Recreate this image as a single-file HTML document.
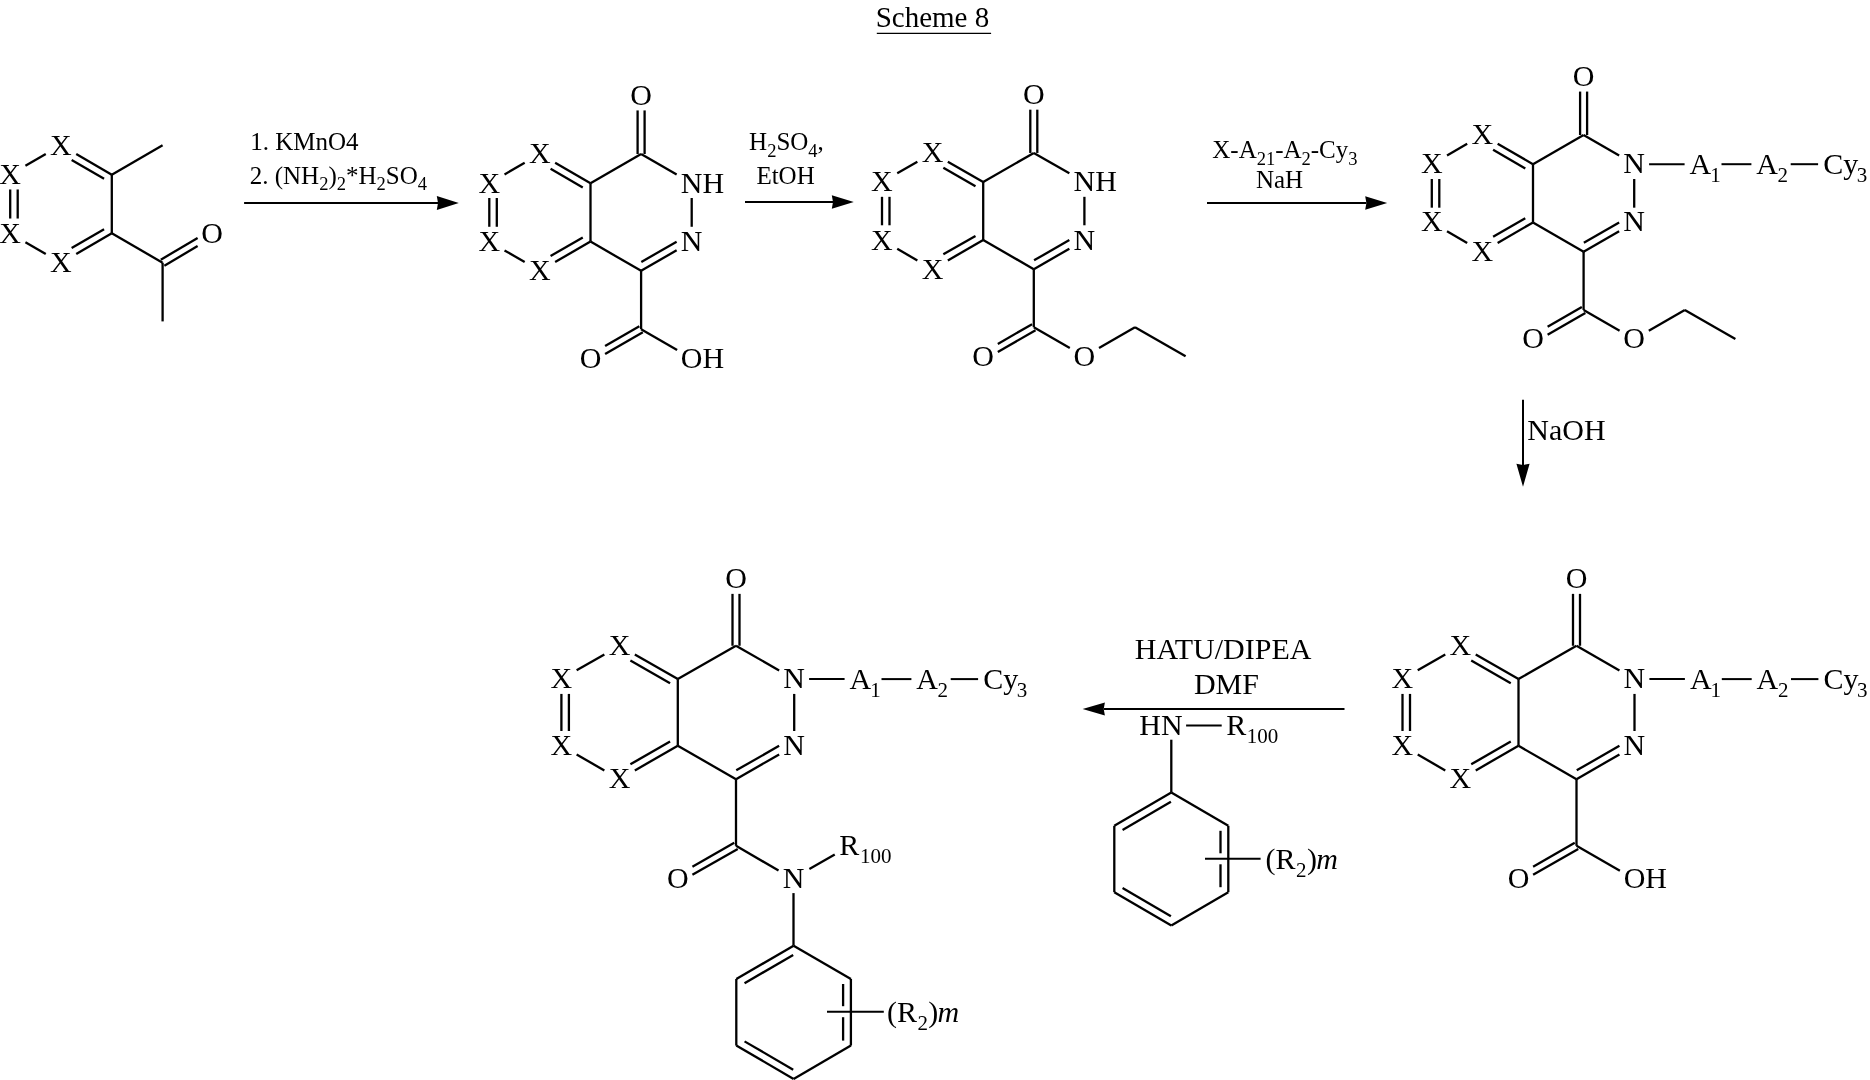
<!DOCTYPE html>
<html><head><meta charset="utf-8"><style>
html,body{margin:0;padding:0;background:#fff;}
svg{display:block;will-change:transform;}
</style></head><body>
<svg width="1870" height="1080" viewBox="0 0 1870 1080">
<rect width="1870" height="1080" fill="#fff"/>
<g stroke="#000" fill="#000" font-family="'Liberation Serif'">
<g stroke="none">
<text x="875.66" y="26.90" font-size="29">Scheme 8</text>
<text x="50.11" y="154.77" font-size="30">X</text>
<text x="50.11" y="272.17" font-size="30">X</text>
<text x="-0.69" y="242.82" font-size="30">X</text>
<text x="-0.69" y="184.12" font-size="30">X</text>
<text x="201.37" y="242.82" font-size="30">O</text>
<text x="250.20" y="149.90" font-size="25">1. KMnO4</text>
<text x="249.70" y="183.80" font-size="25">2. (NH</text>
<text x="319.13" y="190.30" font-size="18.5">2</text>
<text x="328.38" y="183.80" font-size="25">)</text>
<text x="336.71" y="190.30" font-size="18.5">2</text>
<text x="345.96" y="183.80" font-size="25">*H</text>
<text x="376.51" y="190.30" font-size="18.5">2</text>
<text x="385.76" y="183.80" font-size="25">SO</text>
<text x="417.72" y="190.30" font-size="18.5">4</text>
<text x="630.27" y="105.07" font-size="30">O</text>
<text x="680.78" y="192.67" font-size="30">NH</text>
<text x="680.78" y="251.07" font-size="30">N</text>
<text x="529.01" y="163.47" font-size="30">X</text>
<text x="478.41" y="192.67" font-size="30">X</text>
<text x="478.41" y="251.07" font-size="30">X</text>
<text x="529.01" y="280.27" font-size="30">X</text>
<text x="579.67" y="367.87" font-size="30">O</text>
<text x="680.87" y="367.87" font-size="30">OH</text>
<text x="749.08" y="150.00" font-size="25">H</text>
<text x="767.13" y="156.50" font-size="18.5">2</text>
<text x="776.38" y="150.00" font-size="25">SO</text>
<text x="808.34" y="156.50" font-size="18.5">4</text>
<text x="817.59" y="150.00" font-size="25">,</text>
<text x="756.38" y="184.00" font-size="25">EtOH</text>
<text x="1022.97" y="104.32" font-size="30">O</text>
<text x="1073.48" y="191.47" font-size="30">NH</text>
<text x="1073.48" y="249.57" font-size="30">N</text>
<text x="921.71" y="162.42" font-size="30">X</text>
<text x="871.11" y="191.47" font-size="30">X</text>
<text x="871.11" y="249.57" font-size="30">X</text>
<text x="921.71" y="278.62" font-size="30">X</text>
<text x="972.37" y="365.77" font-size="30">O</text>
<text x="1073.57" y="365.77" font-size="30">O</text>
<text x="1212.25" y="158.00" font-size="25">X-A</text>
<text x="1256.68" y="164.50" font-size="18.5">21</text>
<text x="1275.18" y="158.00" font-size="25">-A</text>
<text x="1301.56" y="164.50" font-size="18.5">2</text>
<text x="1310.81" y="158.00" font-size="25">-Cy</text>
<text x="1348.31" y="164.50" font-size="18.5">3</text>
<text x="1255.98" y="187.75" font-size="25">NaH</text>
<text x="1572.77" y="85.62" font-size="30">O</text>
<text x="1623.28" y="173.07" font-size="30">N</text>
<text x="1623.28" y="231.37" font-size="30">N</text>
<text x="1471.51" y="143.92" font-size="30">X</text>
<text x="1420.91" y="173.07" font-size="30">X</text>
<text x="1420.91" y="231.37" font-size="30">X</text>
<text x="1471.51" y="260.52" font-size="30">X</text>
<text x="1522.17" y="347.97" font-size="30">O</text>
<text x="1623.37" y="347.97" font-size="30">O</text>
<text x="1689.61" y="174.02" font-size="30">A</text>
<text x="1710.25" y="182.02" font-size="21">1</text>
<text x="1756.31" y="174.02" font-size="30">A</text>
<text x="1777.58" y="182.02" font-size="21">2</text>
<text x="1823.17" y="174.02" font-size="30">Cy</text>
<text x="1856.80" y="182.02" font-size="21">3</text>
<text x="1527.34" y="440.10" font-size="30">NaOH</text>
<text x="1565.67" y="587.92" font-size="30">O</text>
<text x="1623.58" y="687.97" font-size="30">N</text>
<text x="1623.58" y="754.67" font-size="30">N</text>
<text x="1449.61" y="654.62" font-size="30">X</text>
<text x="1391.61" y="687.97" font-size="30">X</text>
<text x="1391.61" y="754.67" font-size="30">X</text>
<text x="1449.61" y="788.02" font-size="30">X</text>
<text x="1507.67" y="888.07" font-size="30">O</text>
<text x="1623.67" y="888.07" font-size="30">OH</text>
<text x="1689.91" y="688.92" font-size="30">A</text>
<text x="1710.55" y="696.92" font-size="21">1</text>
<text x="1756.61" y="688.92" font-size="30">A</text>
<text x="1777.88" y="696.92" font-size="21">2</text>
<text x="1823.47" y="688.92" font-size="30">Cy</text>
<text x="1857.10" y="696.92" font-size="21">3</text>
<text x="1134.74" y="659.20" font-size="30">HATU/DIPEA</text>
<text x="1193.94" y="694.10" font-size="30">DMF</text>
<text x="1139.24" y="734.80" font-size="30">HN</text>
<text x="1226.14" y="734.80" font-size="30">R</text>
<text x="1246.85" y="742.60" font-size="21">100</text>
<text x="1265.58" y="868.90" font-size="30">(R</text>
<text x="1295.98" y="876.90" font-size="21">2</text>
<text x="1306.93" y="868.90" font-size="30">)</text>
<text x="1316.17" y="868.90" font-size="30" font-style="italic">m</text>
<text x="725.17" y="587.92" font-size="30">O</text>
<text x="783.28" y="687.97" font-size="30">N</text>
<text x="783.28" y="754.67" font-size="30">N</text>
<text x="608.71" y="654.62" font-size="30">X</text>
<text x="550.51" y="687.97" font-size="30">X</text>
<text x="550.51" y="754.67" font-size="30">X</text>
<text x="608.71" y="788.02" font-size="30">X</text>
<text x="849.61" y="688.92" font-size="30">A</text>
<text x="870.25" y="696.92" font-size="21">1</text>
<text x="916.31" y="688.92" font-size="30">A</text>
<text x="937.58" y="696.92" font-size="21">2</text>
<text x="983.17" y="688.92" font-size="30">Cy</text>
<text x="1016.80" y="696.92" font-size="21">3</text>
<text x="666.97" y="888.07" font-size="30">O</text>
<text x="782.68" y="888.07" font-size="30">N</text>
<text x="839.14" y="854.75" font-size="30">R</text>
<text x="860.05" y="862.75" font-size="21">100</text>
<text x="886.98" y="1021.50" font-size="30">(R</text>
<text x="917.38" y="1029.50" font-size="21">2</text>
<text x="928.33" y="1021.50" font-size="30">)</text>
<text x="937.57" y="1021.50" font-size="30" font-style="italic">m</text>
</g>
<line x1="876.80" y1="33.40" x2="991.10" y2="33.40" stroke-width="1.4"/>
<line x1="25.43" y1="165.85" x2="45.77" y2="154.10" stroke-width="2.3"/>
<line x1="76.23" y1="154.10" x2="111.80" y2="174.65" stroke-width="2.3"/>
<line x1="71.66" y1="160.12" x2="104.07" y2="178.84" stroke-width="2.3"/>
<line x1="111.80" y1="174.65" x2="111.80" y2="233.35" stroke-width="2.3"/>
<line x1="111.80" y1="233.35" x2="76.23" y2="253.90" stroke-width="2.3"/>
<line x1="104.07" y1="229.16" x2="71.66" y2="247.88" stroke-width="2.3"/>
<line x1="45.77" y1="253.90" x2="25.43" y2="242.15" stroke-width="2.3"/>
<line x1="10.20" y1="218.53" x2="10.20" y2="189.47" stroke-width="2.3"/>
<line x1="17.70" y1="218.53" x2="17.70" y2="189.47" stroke-width="2.3"/>
<line x1="111.80" y1="174.65" x2="162.60" y2="145.30" stroke-width="2.3"/>
<line x1="111.80" y1="233.35" x2="162.60" y2="262.70" stroke-width="2.3"/>
<line x1="164.38" y1="265.71" x2="197.60" y2="246.06" stroke-width="2.3"/>
<line x1="160.82" y1="259.69" x2="197.60" y2="237.92" stroke-width="2.3"/>
<line x1="162.60" y1="262.70" x2="162.60" y2="321.40" stroke-width="2.3"/>
<line x1="244.10" y1="203.00" x2="438.00" y2="203.00" stroke-width="2.0"/>
<polygon points="458.80,203.00 436.80,196.10 438.00,203.00 436.80,209.90" stroke="none"/>
<line x1="590.50" y1="183.20" x2="590.50" y2="241.60" stroke-width="2.3"/>
<line x1="590.50" y1="183.20" x2="641.10" y2="154.00" stroke-width="2.3"/>
<line x1="644.60" y1="154.00" x2="644.60" y2="110.42" stroke-width="2.3"/>
<line x1="637.60" y1="154.00" x2="637.60" y2="110.42" stroke-width="2.3"/>
<line x1="641.10" y1="154.00" x2="676.64" y2="174.51" stroke-width="2.3"/>
<line x1="691.70" y1="198.02" x2="691.70" y2="226.78" stroke-width="2.3"/>
<line x1="676.64" y1="250.29" x2="641.10" y2="270.80" stroke-width="2.3"/>
<line x1="676.64" y1="241.63" x2="641.34" y2="262.00" stroke-width="2.3"/>
<line x1="641.10" y1="270.80" x2="590.50" y2="241.60" stroke-width="2.3"/>
<line x1="641.10" y1="270.80" x2="641.10" y2="329.20" stroke-width="2.3"/>
<line x1="590.50" y1="183.20" x2="555.13" y2="162.79" stroke-width="2.3"/>
<line x1="582.77" y1="187.40" x2="550.58" y2="168.82" stroke-width="2.3"/>
<line x1="524.67" y1="162.79" x2="504.53" y2="174.41" stroke-width="2.3"/>
<line x1="489.30" y1="198.02" x2="489.30" y2="226.78" stroke-width="2.3"/>
<line x1="496.80" y1="198.02" x2="496.80" y2="226.78" stroke-width="2.3"/>
<line x1="504.53" y1="250.39" x2="524.67" y2="262.01" stroke-width="2.3"/>
<line x1="555.13" y1="262.01" x2="590.50" y2="241.60" stroke-width="2.3"/>
<line x1="550.58" y1="255.98" x2="582.77" y2="237.40" stroke-width="2.3"/>
<line x1="639.35" y1="326.17" x2="605.10" y2="345.93" stroke-width="2.3"/>
<line x1="642.85" y1="332.23" x2="605.10" y2="354.01" stroke-width="2.3"/>
<line x1="641.10" y1="329.20" x2="677.10" y2="349.97" stroke-width="2.3"/>
<line x1="745.00" y1="202.00" x2="833.00" y2="202.00" stroke-width="2.0"/>
<polygon points="853.80,202.00 831.80,195.20 833.00,202.00 831.80,208.80" stroke="none"/>
<line x1="983.20" y1="182.00" x2="983.20" y2="240.10" stroke-width="2.3"/>
<line x1="983.20" y1="182.00" x2="1033.80" y2="152.95" stroke-width="2.3"/>
<line x1="1037.30" y1="152.95" x2="1037.30" y2="109.67" stroke-width="2.3"/>
<line x1="1030.30" y1="152.95" x2="1030.30" y2="109.67" stroke-width="2.3"/>
<line x1="1033.80" y1="152.95" x2="1069.34" y2="173.36" stroke-width="2.3"/>
<line x1="1084.40" y1="196.82" x2="1084.40" y2="225.28" stroke-width="2.3"/>
<line x1="1069.34" y1="248.74" x2="1033.80" y2="269.15" stroke-width="2.3"/>
<line x1="1069.34" y1="240.10" x2="1034.06" y2="260.36" stroke-width="2.3"/>
<line x1="1033.80" y1="269.15" x2="983.20" y2="240.10" stroke-width="2.3"/>
<line x1="1033.80" y1="269.15" x2="1033.80" y2="327.25" stroke-width="2.3"/>
<line x1="983.20" y1="182.00" x2="947.83" y2="161.69" stroke-width="2.3"/>
<line x1="975.48" y1="186.21" x2="943.35" y2="167.77" stroke-width="2.3"/>
<line x1="917.37" y1="161.69" x2="897.23" y2="173.26" stroke-width="2.3"/>
<line x1="882.00" y1="196.82" x2="882.00" y2="225.28" stroke-width="2.3"/>
<line x1="889.50" y1="196.82" x2="889.50" y2="225.28" stroke-width="2.3"/>
<line x1="897.23" y1="248.84" x2="917.37" y2="260.41" stroke-width="2.3"/>
<line x1="947.83" y1="260.41" x2="983.20" y2="240.10" stroke-width="2.3"/>
<line x1="943.35" y1="254.33" x2="975.48" y2="235.89" stroke-width="2.3"/>
<line x1="1032.06" y1="324.21" x2="997.80" y2="343.88" stroke-width="2.3"/>
<line x1="1035.54" y1="330.29" x2="997.80" y2="351.95" stroke-width="2.3"/>
<line x1="1033.80" y1="327.25" x2="1069.80" y2="347.92" stroke-width="2.3"/>
<line x1="1099.00" y1="347.92" x2="1135.00" y2="327.25" stroke-width="2.3"/>
<line x1="1135.00" y1="327.25" x2="1185.60" y2="356.30" stroke-width="2.3"/>
<line x1="1207.00" y1="203.00" x2="1366.40" y2="203.00" stroke-width="2.0"/>
<polygon points="1387.20,203.00 1365.20,196.20 1366.40,203.00 1365.20,209.80" stroke="none"/>
<line x1="1533.00" y1="164.20" x2="1533.00" y2="222.50" stroke-width="2.3"/>
<line x1="1533.00" y1="164.20" x2="1583.60" y2="135.05" stroke-width="2.3"/>
<line x1="1587.10" y1="135.05" x2="1587.10" y2="91.57" stroke-width="2.3"/>
<line x1="1580.10" y1="135.05" x2="1580.10" y2="91.57" stroke-width="2.3"/>
<line x1="1583.60" y1="135.05" x2="1619.14" y2="155.53" stroke-width="2.3"/>
<line x1="1634.20" y1="179.02" x2="1634.20" y2="207.68" stroke-width="2.3"/>
<line x1="1619.14" y1="231.17" x2="1583.60" y2="251.65" stroke-width="2.3"/>
<line x1="1619.14" y1="222.52" x2="1583.84" y2="242.86" stroke-width="2.3"/>
<line x1="1583.60" y1="251.65" x2="1533.00" y2="222.50" stroke-width="2.3"/>
<line x1="1583.60" y1="251.65" x2="1583.60" y2="309.95" stroke-width="2.3"/>
<line x1="1533.00" y1="164.20" x2="1497.63" y2="143.82" stroke-width="2.3"/>
<line x1="1525.27" y1="168.40" x2="1493.10" y2="149.87" stroke-width="2.3"/>
<line x1="1467.17" y1="143.82" x2="1447.03" y2="155.43" stroke-width="2.3"/>
<line x1="1431.80" y1="179.02" x2="1431.80" y2="207.68" stroke-width="2.3"/>
<line x1="1439.30" y1="179.02" x2="1439.30" y2="207.68" stroke-width="2.3"/>
<line x1="1447.03" y1="231.27" x2="1467.17" y2="242.88" stroke-width="2.3"/>
<line x1="1497.63" y1="242.88" x2="1533.00" y2="222.50" stroke-width="2.3"/>
<line x1="1493.10" y1="236.83" x2="1525.27" y2="218.30" stroke-width="2.3"/>
<line x1="1581.85" y1="306.92" x2="1547.60" y2="326.65" stroke-width="2.3"/>
<line x1="1585.35" y1="312.98" x2="1547.60" y2="334.73" stroke-width="2.3"/>
<line x1="1583.60" y1="309.95" x2="1619.60" y2="330.69" stroke-width="2.3"/>
<line x1="1648.80" y1="330.69" x2="1684.80" y2="309.95" stroke-width="2.3"/>
<line x1="1684.80" y1="309.95" x2="1735.40" y2="339.10" stroke-width="2.3"/>
<line x1="1649.10" y1="164.20" x2="1684.60" y2="164.20" stroke-width="2.0"/>
<line x1="1721.50" y1="164.20" x2="1751.40" y2="164.20" stroke-width="2.0"/>
<line x1="1790.70" y1="164.20" x2="1818.10" y2="164.20" stroke-width="2.0"/>
<line x1="1523.00" y1="399.70" x2="1523.00" y2="465.00" stroke-width="2.0"/>
<polygon points="1523.00,486.80 1516.40,463.80 1523.00,465.00 1529.60,463.80" stroke="none"/>
<line x1="1518.50" y1="679.10" x2="1518.50" y2="745.80" stroke-width="2.3"/>
<line x1="1518.50" y1="679.10" x2="1576.50" y2="645.75" stroke-width="2.3"/>
<line x1="1580.00" y1="645.75" x2="1580.00" y2="593.87" stroke-width="2.3"/>
<line x1="1573.00" y1="645.75" x2="1573.00" y2="593.87" stroke-width="2.3"/>
<line x1="1576.50" y1="645.75" x2="1619.44" y2="670.44" stroke-width="2.3"/>
<line x1="1634.50" y1="693.92" x2="1634.50" y2="730.98" stroke-width="2.3"/>
<line x1="1619.44" y1="754.46" x2="1576.50" y2="779.15" stroke-width="2.3"/>
<line x1="1619.44" y1="745.81" x2="1576.75" y2="770.36" stroke-width="2.3"/>
<line x1="1576.50" y1="779.15" x2="1518.50" y2="745.80" stroke-width="2.3"/>
<line x1="1576.50" y1="779.15" x2="1576.50" y2="845.85" stroke-width="2.3"/>
<line x1="1518.50" y1="679.10" x2="1475.73" y2="654.51" stroke-width="2.3"/>
<line x1="1510.77" y1="683.31" x2="1471.23" y2="660.57" stroke-width="2.3"/>
<line x1="1445.27" y1="654.51" x2="1417.73" y2="670.34" stroke-width="2.3"/>
<line x1="1402.50" y1="693.92" x2="1402.50" y2="730.98" stroke-width="2.3"/>
<line x1="1410.00" y1="693.92" x2="1410.00" y2="730.98" stroke-width="2.3"/>
<line x1="1417.73" y1="754.56" x2="1445.27" y2="770.39" stroke-width="2.3"/>
<line x1="1475.73" y1="770.39" x2="1518.50" y2="745.80" stroke-width="2.3"/>
<line x1="1471.23" y1="764.33" x2="1510.77" y2="741.59" stroke-width="2.3"/>
<line x1="1574.76" y1="842.82" x2="1533.10" y2="866.77" stroke-width="2.3"/>
<line x1="1578.24" y1="848.88" x2="1533.10" y2="874.84" stroke-width="2.3"/>
<line x1="1576.50" y1="845.85" x2="1619.90" y2="870.80" stroke-width="2.3"/>
<line x1="1649.40" y1="679.10" x2="1684.90" y2="679.10" stroke-width="2.0"/>
<line x1="1721.80" y1="679.10" x2="1751.70" y2="679.10" stroke-width="2.0"/>
<line x1="1791.00" y1="679.10" x2="1818.40" y2="679.10" stroke-width="2.0"/>
<line x1="1344.50" y1="709.00" x2="1103.70" y2="709.00" stroke-width="2.0"/>
<polygon points="1082.60,709.00 1104.90,702.40 1103.70,709.00 1104.90,715.60" stroke="none"/>
<line x1="1186.10" y1="725.40" x2="1221.70" y2="725.40" stroke-width="2.0"/>
<line x1="1171.30" y1="739.70" x2="1171.30" y2="792.60" stroke-width="2.3"/>
<line x1="1171.30" y1="792.60" x2="1228.30" y2="825.80" stroke-width="2.3"/>
<line x1="1228.30" y1="892.20" x2="1171.30" y2="925.40" stroke-width="2.3"/>
<line x1="1114.30" y1="892.20" x2="1114.30" y2="825.80" stroke-width="2.3"/>
<line x1="1114.30" y1="825.80" x2="1171.30" y2="792.60" stroke-width="2.3"/>
<line x1="1122.55" y1="830.02" x2="1170.91" y2="801.86" stroke-width="2.3"/>
<line x1="1171.30" y1="925.40" x2="1114.30" y2="892.20" stroke-width="2.3"/>
<line x1="1170.91" y1="916.14" x2="1122.55" y2="887.98" stroke-width="2.3"/>
<line x1="1228.30" y1="825.80" x2="1228.30" y2="892.20" stroke-width="2.3"/>
<line x1="1220.50" y1="830.80" x2="1220.50" y2="853.30" stroke-width="2.3"/>
<line x1="1220.50" y1="864.30" x2="1220.50" y2="887.20" stroke-width="2.3"/>
<line x1="1205.00" y1="858.80" x2="1260.60" y2="858.80" stroke-width="2.0"/>
<line x1="677.80" y1="679.10" x2="677.80" y2="745.80" stroke-width="2.3"/>
<line x1="677.80" y1="679.10" x2="736.00" y2="645.75" stroke-width="2.3"/>
<line x1="739.50" y1="645.75" x2="739.50" y2="593.87" stroke-width="2.3"/>
<line x1="732.50" y1="645.75" x2="732.50" y2="593.87" stroke-width="2.3"/>
<line x1="736.00" y1="645.75" x2="779.14" y2="670.47" stroke-width="2.3"/>
<line x1="794.20" y1="693.92" x2="794.20" y2="730.98" stroke-width="2.3"/>
<line x1="779.14" y1="754.43" x2="736.00" y2="779.15" stroke-width="2.3"/>
<line x1="779.14" y1="745.78" x2="736.26" y2="770.36" stroke-width="2.3"/>
<line x1="736.00" y1="779.15" x2="677.80" y2="745.80" stroke-width="2.3"/>
<line x1="736.00" y1="779.15" x2="736.00" y2="845.85" stroke-width="2.3"/>
<line x1="677.80" y1="679.10" x2="634.83" y2="654.48" stroke-width="2.3"/>
<line x1="670.08" y1="683.32" x2="630.38" y2="660.57" stroke-width="2.3"/>
<line x1="604.37" y1="654.48" x2="576.63" y2="670.37" stroke-width="2.3"/>
<line x1="561.40" y1="693.92" x2="561.40" y2="730.98" stroke-width="2.3"/>
<line x1="568.90" y1="693.92" x2="568.90" y2="730.98" stroke-width="2.3"/>
<line x1="576.63" y1="754.53" x2="604.37" y2="770.42" stroke-width="2.3"/>
<line x1="634.83" y1="770.42" x2="677.80" y2="745.80" stroke-width="2.3"/>
<line x1="630.38" y1="764.33" x2="670.08" y2="741.58" stroke-width="2.3"/>
<line x1="809.10" y1="679.10" x2="844.60" y2="679.10" stroke-width="2.0"/>
<line x1="881.50" y1="679.10" x2="911.40" y2="679.10" stroke-width="2.0"/>
<line x1="950.70" y1="679.10" x2="978.10" y2="679.10" stroke-width="2.0"/>
<line x1="734.26" y1="842.81" x2="692.40" y2="866.80" stroke-width="2.3"/>
<line x1="737.74" y1="848.89" x2="692.40" y2="874.87" stroke-width="2.3"/>
<line x1="736.00" y1="845.85" x2="778.54" y2="870.48" stroke-width="2.3"/>
<line x1="809.40" y1="869.00" x2="834.75" y2="854.40" stroke-width="2.3"/>
<line x1="793.50" y1="893.10" x2="793.50" y2="945.60" stroke-width="2.3"/>
<line x1="793.60" y1="945.70" x2="850.90" y2="979.00" stroke-width="2.3"/>
<line x1="850.90" y1="1045.60" x2="793.60" y2="1078.90" stroke-width="2.3"/>
<line x1="736.30" y1="1045.60" x2="736.30" y2="979.00" stroke-width="2.3"/>
<line x1="736.30" y1="979.00" x2="793.60" y2="945.70" stroke-width="2.3"/>
<line x1="744.54" y1="983.23" x2="793.20" y2="954.96" stroke-width="2.3"/>
<line x1="793.60" y1="1078.90" x2="736.30" y2="1045.60" stroke-width="2.3"/>
<line x1="793.20" y1="1069.64" x2="744.54" y2="1041.37" stroke-width="2.3"/>
<line x1="850.90" y1="979.00" x2="850.90" y2="1045.60" stroke-width="2.3"/>
<line x1="843.10" y1="984.00" x2="843.10" y2="1006.20" stroke-width="2.3"/>
<line x1="843.10" y1="1017.20" x2="843.10" y2="1040.60" stroke-width="2.3"/>
<line x1="827.00" y1="1011.70" x2="883.80" y2="1011.70" stroke-width="2.0"/>
</g>
</svg>
</body></html>
